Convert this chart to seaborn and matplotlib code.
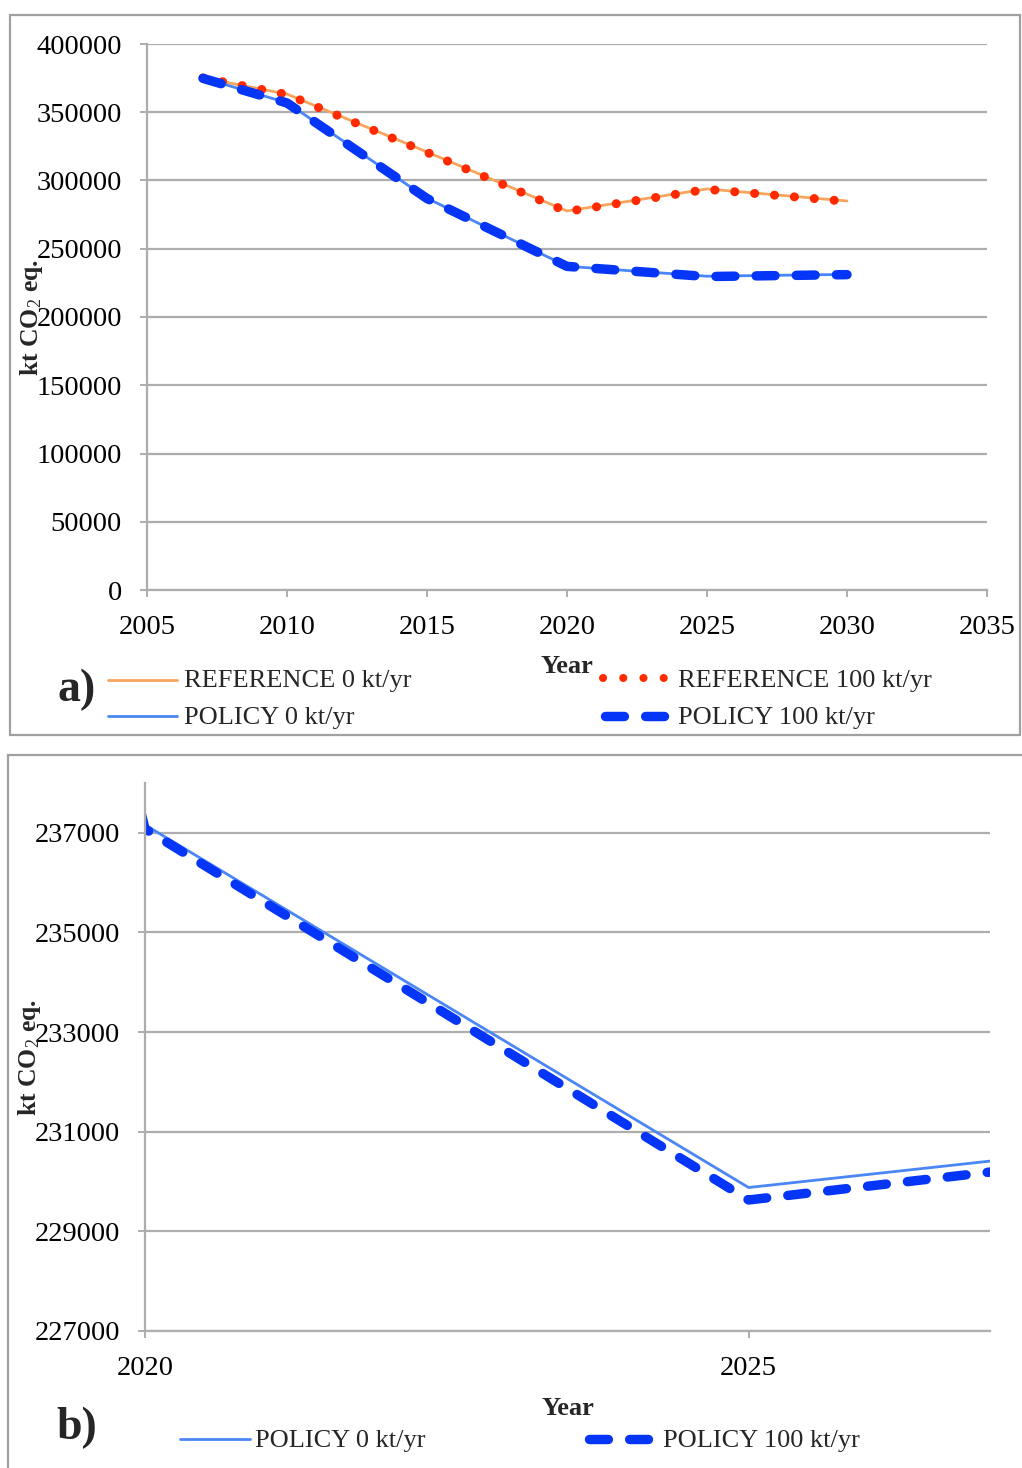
import matplotlib
matplotlib.use("Agg")
import matplotlib.pyplot as plt
from matplotlib.lines import Line2D
from matplotlib.patches import Rectangle
import pandas as pd
import seaborn as sns

# ---- data -------------------------------------------------------------
years = [2007, 2010, 2015, 2020, 2025, 2030]
reference_0 = [375200, 363300, 320900, 277700, 293800, 285000]
reference_100 = [375200, 363000, 320600, 277300, 293500, 284700]
policy_0 = [375000, 357000, 287000, 237160, 229880, 231205]
policy_100 = [374800, 356800, 286800, 237080, 229630, 231030]

top_xticks = [2005, 2010, 2015, 2020, 2025, 2030, 2035]
top_yticks = [0, 50000, 100000, 150000, 200000, 250000, 300000, 350000, 400000]
bottom_xticks = [2020, 2025]
bottom_yticks = [227000, 229000, 231000, 233000, 235000, 237000]

labels = {
    "ref0": "REFERENCE 0 kt/yr",
    "ref100": "REFERENCE 100 kt/yr",
    "pol0": "POLICY 0 kt/yr",
    "pol100": "POLICY 100 kt/yr",
}

# ---- style ------------------------------------------------------------
sns.set_style("white")
SERIF = ["Liberation Serif", "DejaVu Serif"]
plt.rcParams["font.family"] = SERIF
plt.rcParams["mathtext.fontset"] = "custom"
plt.rcParams["mathtext.rm"] = "Liberation Serif"
plt.rcParams["mathtext.it"] = "Liberation Serif:italic"
plt.rcParams["mathtext.bf"] = "Liberation Serif:bold"

ORANGE = "#F7A55E"
RED = "#FF2A00"
LIGHT_BLUE = "#4A86F5"
BLUE = "#0535F7"
GRID = "#ADADAD"

THIN = dict(linewidth=2.0)
DOTS = dict(linewidth=6.5, linestyle=(0, (0.01, 2.2)), dash_capstyle="round")
LEGEND_DOTS = dict(linewidth=5.8, linestyle=(0, (0.01, 2.5)), dash_capstyle="round")
DASH = dict(linewidth=6.8, linestyle=(0, (2.0, 2.25)), dash_capstyle="round")

W, H = 1022, 1468
fig = plt.figure(figsize=(W / 100, H / 100), dpi=100)


def fx(x):
    return x / W


def fy(y):
    return 1 - y / H


df = pd.DataFrame({
    "year": years,
    "ref0": reference_0,
    "ref100": reference_100,
    "pol0": policy_0,
    "pol100": policy_100,
})


def style_axes(ax, xticks, yticks, xlim, ylim):
    ax.set_xlim(*xlim)
    ax.set_ylim(*ylim)
    ax.set_xticks(xticks)
    ax.set_yticks(yticks)
    ax.set_xticklabels([str(t) for t in xticks])
    ax.set_yticklabels([str(t) for t in yticks])
    for side in ("top", "right"):
        ax.spines[side].set_visible(False)
    for side in ("left", "bottom"):
        ax.spines[side].set_color(GRID)
        ax.spines[side].set_linewidth(1.6)
    ax.yaxis.grid(True, color=GRID, linewidth=1.6)
    ax.xaxis.grid(False)
    ax.set_axisbelow(True)
    ax.tick_params(axis="both", length=5, width=1.4, color=GRID,
                   pad=13, labelsize=20.5, labelcolor="black",
                   direction="out", left=True, bottom=True)
    ax.set_xlabel("Year", fontsize=19, fontweight="bold")
    ax.set_ylabel("kt CO$_2$ eq.", fontsize=18.5, fontweight="bold")


# ---- panel a ----------------------------------------------------------
ax1 = fig.add_axes([fx(147), fy(590), (987 - 147) / W, (590 - 44) / H])
sns.lineplot(data=df, x="year", y="ref0", color=ORANGE, ax=ax1, **THIN)
sns.lineplot(data=df, x="year", y="ref100", color=RED, ax=ax1, **DOTS)
sns.lineplot(data=df, x="year", y="pol0", color=LIGHT_BLUE, ax=ax1, **THIN)
sns.lineplot(data=df, x="year", y="pol100", color=BLUE, ax=ax1, **DASH)
style_axes(ax1, top_xticks, top_yticks, (2005, 2035), (0, 400000))
ax1.xaxis.set_label_coords(0.5, (590 - 655) / 546)
ax1.yaxis.set_label_coords((45 - 147) / 840, 0.5)

# ---- panel b ----------------------------------------------------------
ax2 = fig.add_axes([fx(145), fy(1331), (990 - 145) / W, (1331 - 783) / H])
sns.lineplot(data=df, x="year", y="pol0", color=LIGHT_BLUE, ax=ax2, **THIN)
sns.lineplot(data=df, x="year", y="pol100", color=BLUE, ax=ax2, **DASH)
style_axes(ax2, bottom_xticks, bottom_yticks, (2020, 2027.0), (227000, 238000))
ax2.xaxis.set_label_coords(0.5, (1331 - 1397) / 548)
ax2.yaxis.set_label_coords((43 - 145) / 845, 0.5)

# ---- panel frames -----------------------------------------------------
fig.patches.append(Rectangle((fx(10), fy(735)), 1010 / W, 720 / H, fill=False,
                             edgecolor="#A0A0A0", linewidth=1.6,
                             transform=fig.transFigure))
fig.patches.append(Rectangle((fx(8), fy(1475)), 1030 / W, 720 / H, fill=False,
                             edgecolor="#A0A0A0", linewidth=1.6,
                             transform=fig.transFigure))


# ---- legends ----------------------------------------------------------
def swatch(x0, x1, y, color, style):
    fig.add_artist(Line2D([fx(x0), fx(x1)], [fy(y), fy(y)], color=color,
                          transform=fig.transFigure, **style))


def legend_text(x, y, s):
    fig.text(fx(x), fy(y), s, fontsize=19, ha="left", va="center")


swatch(108, 177, 680, ORANGE, THIN)
legend_text(184, 681, labels["ref0"])
swatch(603, 665, 678, RED, LEGEND_DOTS)
legend_text(678, 681, labels["ref100"])
swatch(108, 177, 716, LIGHT_BLUE, THIN)
legend_text(184, 718, labels["pol0"])
swatch(604.5, 663.5, 716, BLUE, DASH)
legend_text(678, 718, labels["pol100"])

swatch(180, 250, 1439, LIGHT_BLUE, THIN)
legend_text(255, 1441, labels["pol0"])
swatch(589, 648, 1439, BLUE, DASH)
legend_text(663, 1441, labels["pol100"])

fig.text(fx(77), fy(690), "a)", fontsize=33, fontweight="bold",
         ha="center", va="center")
fig.text(fx(77), fy(1428), "b)", fontsize=33, fontweight="bold",
         ha="center", va="center")

fig.savefig("out.png", dpi=100)
